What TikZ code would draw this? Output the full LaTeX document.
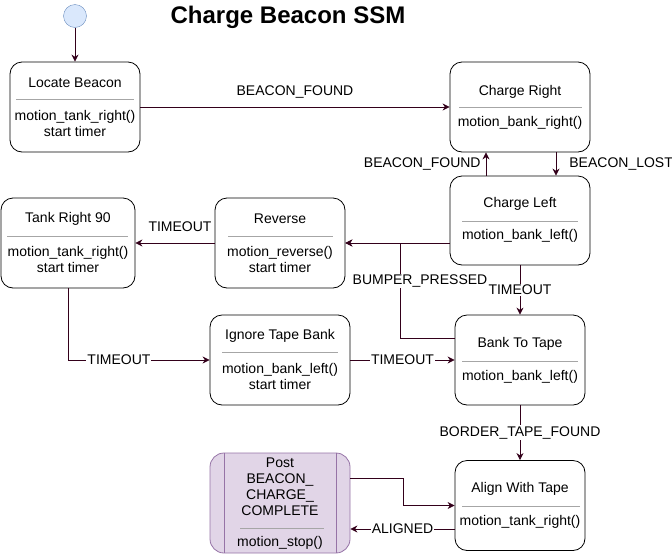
\documentclass[tikz,border=0pt]{standalone}
\usepackage{fontspec}
\setmainfont{Liberation Sans}
\usetikzlibrary{arrows.meta,positioning}
\definecolor{edgecol}{HTML}{33001A}
\definecolor{initfill}{HTML}{DAE8FC}
\definecolor{initline}{HTML}{6C8EBF}
\definecolor{postfill}{HTML}{E1D5E7}
\definecolor{postline}{HTML}{9673A6}
\tikzset{
  state/.style={rectangle,draw,rounded corners=12pt,minimum width=130pt,
                minimum height=90pt,line width=0.8pt},
  post/.style ={rectangle,draw=postline,fill=postfill,rounded corners=14pt,
                minimum width=140pt,minimum height=100pt,line width=0.8pt},
  ttl/.style  ={inner sep=0pt,font=\fontsize{14}{16}\selectfont},
  body/.style ={inner sep=0pt,align=center,font=\fontsize{14}{16}\selectfont},
  sep/.style  ={draw=gray!70,line width=0.8pt},
  arr/.style  ={-{Stealth[length=7pt,width=7pt]},draw=edgecol,line width=0.8pt},
  lbl/.style  ={fill=white,inner sep=1pt,font=\fontsize{14}{16}\selectfont}
}
\begin{document}
\begin{tikzpicture}[x=1pt,y=-1pt,
  init/.style={circle,draw=initline,fill=initfill,minimum size=23pt,inner sep=0pt}
]
  \useasboundingbox (0,0) rectangle (672,555);

  % Title and start
  \node (title) at (288,17) [font=\fontsize{24}{28}\selectfont\bfseries] {Charge Beacon SSM};
  \node (init) at (75,16) [init] {};

  % States
  \node (lb) at (75,107) [state] {};
  \node (lbT) at (75,83) [ttl] {Locate Beacon};
  \draw[sep] (16,99) -- (134,99);
  \node (lbB) at (75,123) [body] {motion\_tank\_right()\\start timer};

  \node (cr) at (520,107) [state,minimum width=140pt] {};
  \node (crT) at (520,92) [ttl] {Charge Right};
  \draw[sep] (459,107) -- (582,107);
  \node (crB) at (520,123) [body] {motion\_bank\_right()};

  \node (cl) at (520,220.5) [state,minimum width=140pt,minimum height=89pt] {};
  \node (clT) at (520,204) [ttl] {Charge Left};
  \draw[sep] (462,221) -- (578,221);
  \node (clB) at (520,236) [body] {motion\_bank\_left()};

  \node (tr) at (68,243) [state,minimum width=134pt] {};
  \node (trT) at (68,219) [ttl] {Tank Right 90};
  \draw[sep] (7,236) -- (128,236);
  \node (trB) at (68,259) [body] {motion\_tank\_right()\\start timer};

  \node (rv) at (280,243) [state] {};
  \node (rvT) at (280,219) [ttl] {Reverse};
  \draw[sep] (228,236) -- (333,236);
  \node (rvB) at (280,259) [body] {motion\_reverse()\\start timer};

  \node (it) at (280,360) [state,minimum width=140pt] {};
  \node (itT) at (280,336) [ttl] {Ignore Tape Bank};
  \draw[sep] (222,352) -- (338,352);
  \node (itB) at (280,376) [body] {motion\_bank\_left()\\start timer};

  \node (bt) at (520,360) [state] {};
  \node (btT) at (520,344) [ttl] {Bank To Tape};
  \draw[sep] (462,361) -- (578,361);
  \node (btB) at (520,377) [body] {motion\_bank\_left()};

  \node (at) at (520,505.5) [state] {};
  \node (atT) at (520,489) [ttl] {Align With Tape};
  \draw[sep] (462,506) -- (580,506);
  \node (atB) at (520,522) [body] {motion\_tank\_right()};

  \node (pc) at (280,503) [post] {};
  \draw[postline,line width=0.8pt] ([xshift=15pt]pc.north west) -- ([xshift=15pt]pc.south west);
  \draw[postline,line width=0.8pt] ([xshift=-14pt]pc.north east) -- ([xshift=-14pt]pc.south east);
  \node (pcT) at (280,487) [body] {Post\\BEACON\_\\CHARGE\_\\COMPLETE};
  \draw[sep] (240,528) -- (324,528);
  \node (pcB) at (280,543) [body] {motion\_stop()};

  % Junctions
  \coordinate (bp) at (400,338);
  \coordinate (pk) at (403,478);
  \coordinate (al) at (402,529);

  % Transitions
  \draw[arr] (init) -- (lb);
  \draw[arr] (lb.east) -- (cr.west) node[midway,above=7pt,lbl,fill=none] {BEACON\_FOUND};
  \draw[arr] ([xshift=-34pt]cl.north) -- ([xshift=-34pt]cr.south)
    node[midway,left=4pt,lbl,fill=none] {BEACON\_FOUND};
  \draw[arr] ([xshift=36pt]cr.south) -- ([xshift=36pt]cl.north)
    node[midway,right=12pt,lbl,fill=none] {BEACON\_LOST};
  \draw[arr] (cl.west |- rv.east) -- (rv.east);
  \draw[arr] (bt.west |- bp) -- (bp) -- (bp |- rv.east)
    node[pos=0.6,lbl,xshift=20pt] {BUMPER\_PRESSED} -- (rv.east);
  \draw[arr] (cl.south) -- (bt.north) node[midway,lbl] {TIMEOUT};
  \draw[arr] (rv.west) -- (tr.east) node[midway,above=10pt,lbl,fill=none,xshift=5pt] {TIMEOUT};
  \draw[arr] (tr.south) |- (it.west) node[pos=0.68,lbl] {TIMEOUT};
  \draw[arr] (it.east) -- (bt.west) node[midway,lbl] {TIMEOUT};
  \draw[arr] (bt.south) -- (at.north) node[midway,lbl] {BORDER\_TAPE\_FOUND};
  \draw[arr] (pc.east |- pk) -- (pk) |- (at.west);
  \draw[arr] (at.west |- al) -- (pc.east |- al) node[midway,lbl] {ALIGNED};
\end{tikzpicture}
\end{document}
